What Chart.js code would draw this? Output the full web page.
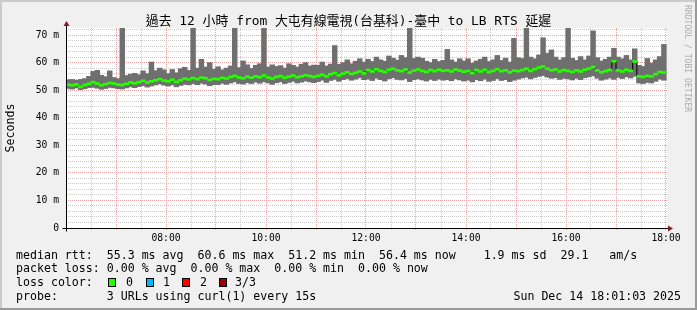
<!DOCTYPE html>
<html><head><meta charset="utf-8">
<script src="https://cdn.jsdelivr.net/npm/chart.js@4.4.1/dist/chart.umd.min.js"></script>
<style>
html,body{margin:0;padding:0;background:#f0f0f0;}
#wrap{position:relative;width:697px;height:310px;overflow:hidden;}
canvas{position:absolute;left:0;top:0;}
.t{position:absolute;font-family:"DejaVu Sans Mono",monospace;font-size:11.6px;line-height:14px;white-space:pre;color:#000;}
#title{left:0;top:13px;width:697px;text-align:center;font-family:"DejaVu Sans Mono","Noto Sans CJK TC",monospace;font-size:12.9px;line-height:16px;white-space:pre;position:absolute;color:#000;}
#rrd{position:absolute;left:693px;top:5px;transform:rotate(90deg);transform-origin:0 0;font-family:"DejaVu Sans Mono",monospace;font-size:8.1px;line-height:10px;white-space:pre;color:#ababab;}
.box{position:absolute;width:8px;height:9px;box-sizing:border-box;border:1px solid #000;}
</style></head><body>
<div id="wrap">
<canvas id="c" width="697" height="310"></canvas>
<div id="title">過去 12 小時 from 大屯有線電視(台基科)-臺中 to LB RTS 延遲</div>
<div id="rrd">RRDTOOL / TOBI OETIKER</div>
<div class="t" style="left:16px;top:247.5px">median rtt:  55.3 ms avg  60.6 ms max  51.2 ms min  56.4 ms now    1.9 ms sd  29.1   am/s</div>
<div class="t" style="left:16px;top:261.3px">packet loss: 0.00 % avg  0.00 % max  0.00 % min  0.00 % now</div>
<div class="t" style="left:16px;top:275.3px">loss color:</div>
<div class="box" id="b0" style="left:108px;top:278px"></div><div class="t" style="left:126px;top:275.3px">0</div>
<div class="box" id="b1" style="left:146px;top:278px"></div><div class="t" style="left:163px;top:275.3px">1</div>
<div class="box" id="b2" style="left:182px;top:278px"></div><div class="t" style="left:200px;top:275.3px">2</div>
<div class="box" id="b3" style="left:219px;top:278px"></div><div class="t" style="left:235px;top:275.3px">3/3</div>
<div class="t" style="left:16px;top:289px">probe:       3 URLs using curl(1) every 15s</div>
<div class="t" style="right:16px;top:289px">Sun Dec 14 18:01:03 2025</div>
</div>
<script>
// ---- data (ms), one value per 5-minute column starting 06:00 ----
const stepMinutes = 5;
const medianRtt = [
 52.0,51.8,52.1,51.2,51.9,52.3,52.9,52.4,51.8,52.2,52.6,52.4,
 52.0,51.9,52.3,52.8,52.5,52.9,53.4,52.8,53.2,53.6,54.0,53.5,
 53.2,53.8,53.0,53.6,54.2,53.9,54.4,54.0,54.6,54.3,53.7,54.1,
 54.0,54.5,54.2,54.8,55.2,54.6,54.3,54.9,54.5,55.0,54.7,55.3,
 54.6,54.2,54.8,55.1,54.5,54.9,55.3,54.7,55.0,55.4,55.1,54.8,
 55.2,55.6,55.0,55.8,56.2,55.4,56.0,56.5,55.9,56.3,56.8,56.1,
 57.3,56.8,57.6,57.0,56.6,57.4,57.8,57.2,56.9,57.5,56.4,57.1,
 57.5,57.0,56.6,57.3,56.9,57.4,57.0,57.2,56.8,57.5,57.1,56.7,
 57.0,56.2,57.3,56.8,57.4,56.6,57.0,57.6,56.9,57.2,56.5,57.1,
 56.9,57.3,57.8,57.0,57.6,58.2,58.6,57.8,57.2,57.5,56.8,57.3,
 57.0,56.6,57.2,56.8,57.4,57.8,58.4,57.2,56.5,56.9,57.3,60.5,
 57.2,56.8,57.4,57.0,60.4,55.0,54.8,55.2,55.0,55.8,56.6,56.4
];
const smokeMax = [
 53.8,53.9,53.6,53.9,54.2,55.0,56.8,57.2,55.4,54.9,57.0,54.6,
 54.2,80.0,55.3,55.8,56.1,55.6,57.0,56.0,60.2,57.1,58.0,57.4,
 56.0,57.5,56.3,57.8,58.3,57.2,80.0,58.0,61.2,58.4,60.0,57.6,
 58.5,57.4,58.0,58.8,80.0,58.2,60.6,59.2,57.9,59.0,59.6,80.0,
 58.4,59.2,58.6,58.9,58.0,59.6,59.0,58.4,59.4,60.0,58.8,59.1,
 59.0,60.2,58.8,59.5,66.2,59.4,60.0,61.0,59.6,60.5,61.4,60.2,
 61.2,60.4,62.0,61.0,60.5,62.4,61.6,60.9,62.6,61.8,80.0,61.5,
 62.0,61.6,60.5,60.0,61.2,60.4,60.8,64.8,61.0,60.2,61.4,60.6,
 61.4,59.8,60.6,61.2,62.0,60.4,61.0,62.6,60.8,61.6,60.2,68.8,
 61.8,61.5,80.0,62.0,61.4,62.8,69.0,63.4,64.6,62.0,61.0,61.8,
 80.0,61.6,60.8,62.2,61.0,62.4,71.5,61.8,60.6,61.2,62.0,65.2,
 62.0,61.4,62.6,61.0,65.0,59.0,58.6,61.5,59.8,61.0,62.2,66.6
];
const smokeMin = [
 50.6,50.4,50.8,50.2,50.5,50.9,51.0,50.7,50.3,50.6,51.0,50.8,
 50.5,50.4,50.8,51.2,50.9,51.3,51.6,51.1,51.5,51.9,52.3,51.8,
 51.5,51.9,51.2,51.7,52.1,51.9,52.4,52.0,52.5,52.2,51.6,52.0,
 52.0,52.5,52.1,52.6,53.0,52.4,52.2,52.7,52.4,52.9,52.5,53.0,
 52.6,52.1,52.7,53.0,52.4,52.8,53.2,52.6,52.9,53.3,53.0,52.7,
 53.1,53.6,52.8,53.5,53.9,53.2,53.8,54.2,53.6,54.0,54.5,53.8,
 54.0,53.5,54.3,53.8,53.3,54.1,54.5,53.9,53.7,54.2,53.1,53.8,
 54.1,53.7,53.3,53.9,53.5,54.0,53.6,53.8,53.4,54.1,53.7,53.3,
 53.6,53.0,53.8,53.4,54.0,53.2,53.5,54.2,53.5,53.8,53.1,53.6,
 54.0,54.4,54.7,54.1,54.6,55.0,55.3,54.7,54.3,54.5,53.9,54.3,
 54.1,53.7,54.3,53.8,54.5,54.8,55.2,54.3,53.6,54.0,54.4,53.9,
 54.6,54.2,54.8,54.4,55.0,52.6,52.4,52.8,52.6,53.2,54.0,53.6
];
const xTickLabels = ['08:00','10:00','12:00','14:00','16:00','18:00'];
const xTickMinutes = [120,240,360,480,600,720];
const yTickLabels = ['0','10 m','20 m','30 m','40 m','50 m','60 m','70 m'];
const yTickValues = [0,10,20,30,40,50,60,70];
const lossLabels = ['0','1','2','3/3'];
const lossColors = ['#26ff00','#00b8ff','#ff0000','#a10000'];

// ---- styles ----
const SMOKE = '#6f6f6f', GRID = '#cacaca', MGRID = '#eaa2a2';
const MONO = '"DejaVu Sans Mono", monospace';
['b0','b1','b2','b3'].forEach((id,i)=>document.getElementById(id).style.background = lossColors[i]);

const colX = medianRtt.map((_, i) => (i + 0.5) * stepMinutes);
const smokeData = colX.map((x, i) => ({x, y: [smokeMin[i], smokeMax[i]]}));
const medLine = colX.map((x, i) => ({x, y: medianRtt[i]}));
const medBar = colX.map((x, i) => ({x, y: [medianRtt[i] - 0.36, medianRtt[i] + 0.36]}));

const xGrid = []; for (let m = 30; m <= 720; m += 30) xGrid.push(m);
const yGrid = []; for (let v = 0; v <= 72; v += 2) yGrid.push(v);

const bgPlugin = {
  id: 'bg',
  beforeDraw(c) {
    const g = c.ctx, a = c.chartArea;
    g.save();
    g.fillStyle = '#f0f0f0'; g.fillRect(0, 0, c.width, c.height);
    g.fillStyle = '#cbcbcb'; g.fillRect(0, 0, c.width, 2); g.fillRect(0, 0, 2, c.height);
    g.fillStyle = '#999999'; g.fillRect(0, c.height - 2, c.width, 2); g.fillRect(c.width - 2, 0, 2, c.height);
    g.fillStyle = '#ffffff'; g.fillRect(a.left, a.top, a.right - a.left, a.bottom - a.top);
    g.restore();
  }
};
const axisPlugin = {
  id: 'axes',
  afterDraw(c) {
    const g = c.ctx, a = c.chartArea;
    const x0 = Math.round(a.left) + 0.5, y0 = Math.round(a.bottom) + 0.5;
    g.save();
    g.strokeStyle = '#000'; g.lineWidth = 1;
    g.beginPath(); g.moveTo(x0 - 4, y0); g.lineTo(a.right + 2, y0); g.stroke();
    g.beginPath(); g.moveTo(x0, y0 + 3); g.lineTo(x0, a.top - 2); g.stroke();
    g.fillStyle = '#7f1f1f';
    g.beginPath(); g.moveTo(a.right + 1, y0 - 3); g.lineTo(a.right + 6, y0); g.lineTo(a.right + 1, y0 + 3); g.closePath(); g.fill();
    g.beginPath(); g.moveTo(x0 - 3, a.top - 2); g.lineTo(x0, a.top - 7); g.lineTo(x0 + 3, a.top - 2); g.closePath(); g.fill();
    g.restore();
  }
};

new Chart(document.getElementById('c'), {
  type: 'line',
  data: { datasets: [
    {type: 'bar', data: smokeData, backgroundColor: SMOKE, borderWidth: 0, grouped: false, barThickness: 4.8, order: 3},
    {type: 'line', data: medLine, borderColor: '#000', borderWidth: 1, stepped: 'middle', pointRadius: 0, fill: false, order: 2},
    {type: 'bar', data: medBar, backgroundColor: lossColors[0], borderWidth: 0, grouped: false, barThickness: 4.4, order: 1}
  ]},
  options: {
    responsive: false, animation: false, devicePixelRatio: 1,
    layout: {padding: {left: 0, right: 30, top: 28, bottom: 0}},
    plugins: {legend: {display: false}, tooltip: {enabled: false}, title: {display: false}},
    scales: {
      x: {
        type: 'linear', min: 0, max: 721.2, offset: false,
        afterBuildTicks: s => { s.ticks = xGrid.map(v => ({value: v})); },
        afterFit: s => { s.height = 82; },
        grid: {offset: false, lineWidth: 1, drawTicks: true, tickLength: 2,
          color: ctx => (ctx.tick && ctx.tick.value % 60 === 0) ? MGRID : GRID,
          tickColor: ctx => (ctx.tick && ctx.tick.value % 60 === 0) ? MGRID : GRID},
        border: {display: false, dash: [1, 1]},
        ticks: {autoSkip: false, maxRotation: 0, minRotation: 0, padding: 3, color: '#000',
          font: {family: MONO, size: 9.7},
          callback: v => { const k = xTickMinutes.indexOf(v); return k >= 0 ? xTickLabels[k] : ''; }}
      },
      y: {
        type: 'linear', min: 0, max: 72.55,
        afterBuildTicks: s => { s.ticks = yGrid.map(v => ({value: v})); },
        afterFit: s => { s.width = 66; },
        grid: {lineWidth: 1, drawTicks: false,
          color: ctx => !ctx.tick || ctx.tick.value === 0 ? 'rgba(0,0,0,0)' : (ctx.tick.value % 10 === 0 ? MGRID : GRID)},
        border: {display: false, dash: [1, 1]},
        ticks: {autoSkip: false, padding: 7, color: '#000', font: {family: MONO, size: 9.7},
          callback: v => { const k = yTickValues.indexOf(v); return k >= 0 ? yTickLabels[k] : ''; }},
        title: {display: true, text: 'Seconds', color: '#000', font: {family: MONO, size: 11.6}, padding: {top: 4, bottom: 0}}
      }
    }
  },
  plugins: [bgPlugin, axisPlugin]
});
</script>
</body></html>
